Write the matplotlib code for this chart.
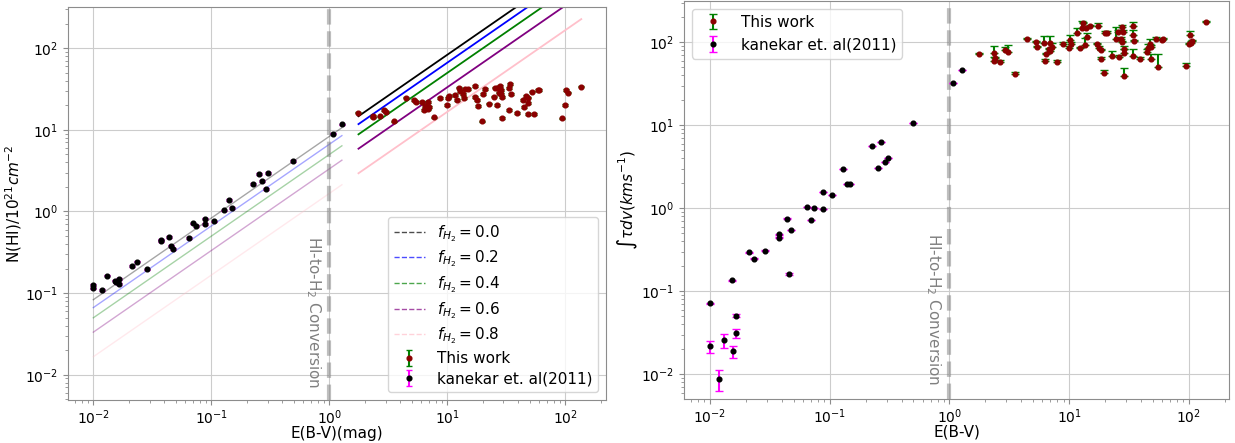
import numpy as np
import matplotlib
matplotlib.use("Agg")
import matplotlib.pyplot as plt
from matplotlib.lines import Line2D

# ---------------- data ----------------
# Kanekar et al. (2011): E(B-V), N(HI) [1e21 cm^-2], integrated tau [km/s]
e_kanekar = [0.0100, 0.0100, 0.0119, 0.0130, 0.0152, 0.0156, 0.0165, 0.0165, 0.0211,
             0.0233, 0.0287, 0.0375, 0.0375, 0.0438, 0.0456, 0.0472, 0.0646, 0.0695,
             0.0735, 0.0886, 0.0886, 0.1045, 0.129, 0.140, 0.149, 0.225, 0.255, 0.271,
             0.289, 0.305, 0.493, 1.07, 1.28]
n_kanekar = [0.125, 0.114, 0.109, 0.163, 0.142, 0.135, 0.148, 0.129, 0.216,
             0.242, 0.195, 0.450, 0.437, 0.485, 0.380, 0.346, 0.471, 0.713,
             0.667, 0.700, 0.820, 0.755, 1.03, 1.39, 1.10, 2.16, 2.89, 2.37,
             1.88, 2.95, 4.17, 9.02, 11.7]
tau_kanekar = [0.072, 0.0216, 0.0088, 0.0256, 0.135, 0.0188, 0.0506, 0.031, 0.296,
               0.248, 0.307, 0.486, 0.444, 0.751, 0.161, 0.549, 1.03, 0.724,
               1.00, 1.56, 0.98, 1.46, 3.00, 1.96, 1.96, 5.62, 3.06, 6.34,
               3.61, 4.07, 10.8, 32.7, 46.0]
tau_kanekar_err = [0.001, 0.0035, 0.0025, 0.005, 0.002, 0.003, 0.002, 0.004, 0.003,
                   0.003, 0.003, 0.003, 0.003, 0.003, 0.003, 0.003, 0.003, 0.003,
                   0.003, 0.003, 0.003, 0.003, 0.003, 0.003, 0.003, 0.003, 0.003, 0.003,
                   0.003, 0.003, 0.003, 0.003, 0.003]

# This work, left panel: E(B-V), N(HI)
e_this_n = [1.77, 2.33, 2.37, 2.67, 2.89, 3.02, 3.56, 4.50, 5.25, 5.39, 6.10, 6.30,
            6.47, 6.81, 6.64, 7.04, 6.90, 7.80, 8.72, 9.94, 10.1, 10.3, 11.7, 12.2,
            12.6, 12.9, 13.5, 13.8, 14.2, 15.0, 17.3, 17.3, 17.9, 18.1, 19.7, 21.0,
            20.3, 22.8, 24.7, 25.3, 26.3, 26.6, 28.0, 27.5, 28.4, 28.8, 29.4, 29.0,
            34.2, 33.7, 34.9, 33.7, 39.0, 43.8, 45.2, 46.5, 48.0, 48.9, 48.0, 52.5,
            54.9, 59.4, 60.6, 94.4, 100.0, 102.0, 105.0, 137.0]
n_this = [16.3, 14.8, 14.2, 14.6, 17.4, 16.6, 12.7, 24.9, 23.1, 21.8, 21.8, 17.4,
          19.6, 22.0, 18.7, 19.1, 18.0, 14.2, 24.4, 20.2, 24.4, 26.0, 26.7, 23.1,
          33.0, 29.9, 27.8, 24.4, 31.4, 31.4, 34.4, 25.0, 23.1, 19.6, 12.7, 31.4,
          27.3, 21.0, 25.6, 33.0, 20.2, 33.0, 34.4, 28.6, 30.5, 27.3, 25.3, 13.9,
          36.1, 32.3, 27.3, 17.4, 16.0, 23.2, 19.1, 26.0, 24.9, 21.2, 15.6, 29.5,
          15.8, 31.1, 30.5, 13.8, 20.0, 30.5, 28.6, 33.9]

# This work, right panel: E(B-V), integrated tau, upper error
e_this_tau = [1.76, 2.36, 2.35, 2.41, 2.67, 2.92, 3.07, 3.56, 4.46, 5.27, 5.43, 6.15,
              6.43, 6.27, 6.81, 6.98, 7.17, 6.90, 7.89, 8.85, 9.95, 10.2, 10.4, 11.7,
              12.4, 12.8, 13.0, 13.8, 15.0, 14.1, 13.6, 17.5, 20.1, 20.9, 17.2, 17.9,
              18.4, 18.4, 19.7, 22.8, 24.7, 25.5, 27.7, 28.5, 27.2, 27.7, 28.8, 28.6,
              26.2, 29.0, 34.5, 34.1, 35.2, 34.1, 39.4, 44.6, 46.0, 47.5, 48.4, 48.2,
              55.5, 53.3, 59.5, 61.4, 95.0, 100.7, 104.0, 106.7, 103.0, 139.0]
tau_this = [72.0, 74.8, 60.0, 64.0, 57.8, 80.6, 76.9, 41.8, 110.0, 100.0, 88.5, 98.9,
            71.5, 60.0, 83.0, 98.9, 86.7, 78.5, 57.2, 96.0, 85.8, 106.0, 95.0, 128.0,
            84.4, 147.0, 169.0, 147.0, 158.0, 117.0, 91.8, 157.0, 128.0, 128.0, 94.4, 86.0,
            79.8, 62.4, 42.2, 68.9, 111.0, 132.0, 154.0, 134.0, 111.0, 100.0, 82.3, 73.5,
            67.0, 39.8, 157.0, 124.0, 103.0, 68.9, 62.8, 75.7, 84.4, 94.4, 88.5, 62.8,
            50.8, 109.0, 106.0, 109.0, 51.8, 94.4, 98.9, 103.0, 124.0, 177.0]
tau_this_err = [3, 16, 7, 3, 3, 8, 15, 2, 3, 5, 3, 22,
                3, 3, 3, 20, 12, 5, 4, 4, 4, 16, 5, 19,
                4, 34, 8, 8, 4, 13, 22, 12, 10, 10, 4, 4,
                4, 4, 4, 10, 40, 10, 6, 8, 5, 5, 8, 10,
                4, 9, 20, 15, 4, 15, 4, 8, 10, 15, 5, 10,
                21, 6, 5, 5, 5, 4, 4, 4, 12, 3]

f_h2 = [0.0, 0.2, 0.4, 0.6, 0.8]
f_colors = ["black", "blue", "green", "purple", "pink"]
gas_to_dust = 8.3  # N(H)/E(B-V) in 1e21 cm^-2 mag^-1

# ---------------- figure ----------------
plt.rcParams["font.family"] = ["DejaVu Sans"]
plt.rcParams["font.size"] = 10

fig = plt.figure(figsize=(12.35, 4.43), dpi=100)
W, H = 1235.0, 443.0
ax1 = fig.add_axes([68 / W, 1 - 400 / H, (606 - 68) / W, (400 - 7) / H])
ax2 = fig.add_axes([684 / W, 1 - 399 / H, (1229 - 684) / W, (399 - 1) / H])

spine_c = "0.55"
MS = 3.4

def style(ax):
    ax.set_xscale("log")
    ax.set_yscale("log")
    ax.grid(True, which="major", color="0.8", lw=0.8)
    for s in ax.spines.values():
        s.set_color(spine_c)
    ax.tick_params(which="both", colors=spine_c, labelcolor="black", labelsize=10)
    ax.tick_params(axis="x", which="major", pad=2.5)

# ---- left panel ----
style(ax1)
ek = np.sort(np.array(e_kanekar))
et = np.sort(np.array(e_this_n))
for f, c in zip(f_h2, f_colors):
    ax1.plot(ek, gas_to_dust * (1 - f) * ek, color=c, lw=1.0, alpha=0.35)
    ax1.plot(et, gas_to_dust * (1 - f) * et, color=c, lw=1.3)

ax1.axvline(1.0, color="gray", ls="--", lw=3, alpha=0.5)
ax1.text(0.73, 0.5, "HI-to-H$_2$ Conversion", rotation=270, ha="center", va="top",
         color="gray", fontsize=11)

n_this_err = [0.025 * v for v in n_this]
n_kanekar_err = [0.02 * v for v in n_kanekar]
eb_this = ax1.errorbar(e_this_n, n_this, yerr=n_this_err, fmt="o", color="darkred",
                       ecolor="green", markersize=MS, capsize=2.5, elinewidth=1.5,
                       label="This work")
eb_k = ax1.errorbar(e_kanekar, n_kanekar, yerr=n_kanekar_err, fmt="o", color="black",
                    ecolor="magenta", markersize=MS, capsize=2.5, elinewidth=1.5,
                    label="kanekar et. al(2011)")

handles = [Line2D([], [], color=c, ls="--", lw=1.0, alpha=0.7,
                  label=r"$f_{H_2}=%.1f$" % f) for f, c in zip(f_h2, f_colors)]
handles += [eb_this, eb_k]
ax1.legend(handles=handles, loc="lower right", fontsize=11, labelspacing=0.33)

ax1.set_xlim(0.0061, 222)
ax1.set_ylim(0.0049, 320)
ax1.set_xlabel("E(B-V)(mag)", fontsize=11, labelpad=-1)
ax1.set_ylabel(r"N(HI)/$10^{21}cm^{-2}$", fontsize=11, labelpad=1)

# ---- right panel ----
style(ax2)
ax2.axvline(1.0, color="gray", ls="--", lw=3, alpha=0.5)
ax2.text(0.73, 0.5, "HI-to-H$_2$ Conversion", rotation=270, ha="center", va="top",
         color="gray", fontsize=11)
ax2.errorbar(e_this_tau, tau_this, yerr=[np.zeros(len(tau_this_err)), tau_this_err],
             fmt="o", color="darkred", ecolor="green", markersize=MS, capsize=3,
             elinewidth=1.5, label="This work")
ax2.errorbar(e_kanekar, tau_kanekar, yerr=tau_kanekar_err, fmt="o", color="black",
             ecolor="magenta", markersize=MS, capsize=3, elinewidth=1.5,
             label="kanekar et. al(2011)")
ax2.legend(loc="upper left", fontsize=11)
ax2.set_xlim(0.00607, 217)
ax2.set_ylim(0.00503, 315)
ax2.set_xlabel("E(B-V)", fontsize=11, labelpad=-1)
ax2.set_ylabel(r"$\int\tau dv(kms^{-1})$", fontsize=11, labelpad=1)

fig.savefig("out.png", dpi=100)
